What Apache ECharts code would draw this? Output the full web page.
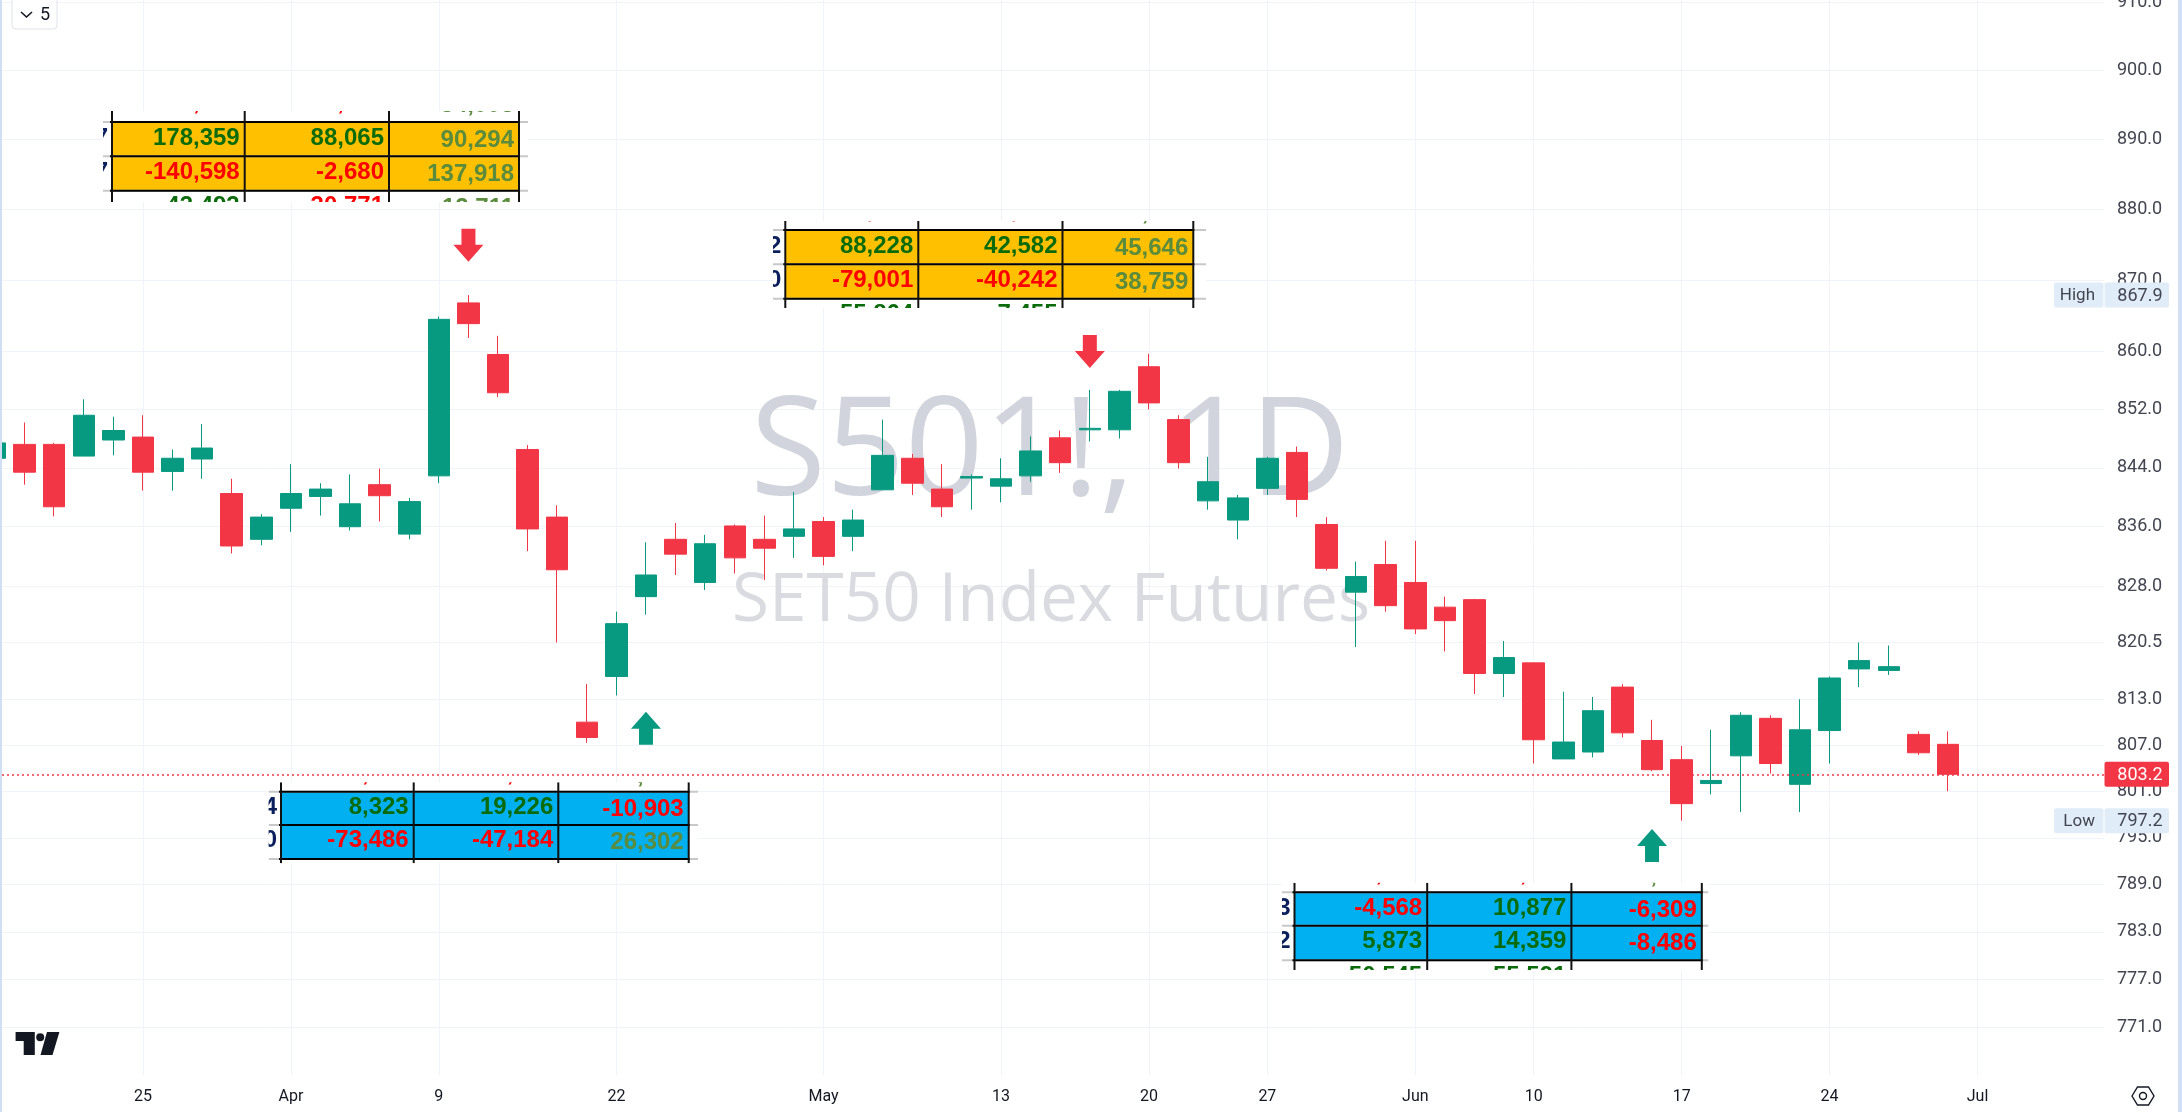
<!DOCTYPE html>
<html>
<head>
<meta charset="utf-8">
<title>S501! 1D</title>
<style>
  html, body { margin: 0; padding: 0; background: #fff; }
  #chart { width: 2182px; height: 1112px; }
</style>
<script src="https://cdn.jsdelivr.net/npm/echarts@6/dist/echarts.min.js"></script>
</head>
<body>
<div id="chart"></div>
<script>
// trading days, one per candle (the last one has no candle yet)
const dates = [
  'Mar 18', 'Mar 19', 'Mar 20', 'Mar 21', 'Mar 22', 'Mar 25', 'Mar 26', 'Mar 27', 'Mar 28', 'Mar 29',
  'Apr 1', 'Apr 2', 'Apr 3', 'Apr 4', 'Apr 5', 'Apr 9', 'Apr 10', 'Apr 11', 'Apr 12', 'Apr 18',
  'Apr 19', 'Apr 22', 'Apr 23', 'Apr 24', 'Apr 25', 'Apr 26', 'Apr 29', 'Apr 30', 'May 2', 'May 3',
  'May 7', 'May 8', 'May 9', 'May 10', 'May 13', 'May 14', 'May 15', 'May 16', 'May 17', 'May 20',
  'May 21', 'May 23', 'May 24', 'May 27', 'May 28', 'May 29', 'May 30', 'May 31', 'Jun 3', 'Jun 4',
  'Jun 5', 'Jun 7', 'Jun 10', 'Jun 11', 'Jun 12', 'Jun 13', 'Jun 14', 'Jun 17', 'Jun 18', 'Jun 19',
  'Jun 20', 'Jun 21', 'Jun 24', 'Jun 25', 'Jun 26', 'Jun 27', 'Jun 28', 'Jul 1'
];

// open, close, low, high
const candles = [
  [845.3, 847.4, 845.0, 847.8], [847.2, 843.4, 841.7, 850.2], [847.2, 838.7, 837.4, 847.4],
  [845.6, 851.2, 845.6, 853.4], [847.8, 849.1, 845.7, 851.0], [848.2, 843.4, 840.9, 851.2],
  [843.5, 845.3, 840.9, 846.5], [845.2, 846.7, 842.5, 850.0], [840.5, 833.4, 832.4, 842.5],
  [834.3, 837.3, 833.5, 837.7], [838.5, 840.5, 835.3, 844.5], [840.1, 841.1, 837.5, 841.9],
  [836.0, 839.1, 835.5, 843.1], [841.7, 840.2, 836.7, 843.9], [835.0, 839.4, 834.3, 839.9],
  [842.9, 864.5, 841.9, 864.9], [866.8, 863.9, 861.9, 867.9], [859.6, 854.3, 853.7, 862.2],
  [846.5, 835.7, 832.7, 847.1], [837.3, 830.2, 820.5, 838.9], [810.0, 808.0, 807.3, 815.0],
  [816.0, 823.0, 813.5, 824.6], [826.6, 829.5, 824.2, 833.9], [834.3, 832.3, 829.5, 836.5],
  [828.5, 833.7, 827.5, 834.9], [836.1, 831.8, 829.7, 836.3], [834.3, 833.1, 828.8, 837.5],
  [834.7, 835.7, 831.8, 840.7], [836.7, 832.0, 830.8, 837.3], [834.7, 836.9, 832.7, 838.3],
  [841.0, 845.7, 841.0, 850.6], [845.3, 841.9, 840.3, 845.9], [841.1, 838.7, 837.3, 844.5],
  [842.6, 842.8, 838.3, 843.1], [841.5, 842.5, 839.3, 845.3], [842.9, 846.3, 842.1, 848.3],
  [848.1, 844.7, 843.3, 849.1], [849.2, 849.4, 847.6, 854.7], [849.2, 854.5, 848.0, 854.7],
  [857.9, 852.9, 852.0, 859.7], [850.6, 844.7, 843.9, 851.2], [839.5, 842.1, 838.3, 845.5],
  [836.9, 839.9, 834.3, 840.3], [841.2, 845.3, 840.3, 845.5], [846.1, 839.7, 837.3, 846.9],
  [836.3, 830.4, 830.1, 837.3], [827.2, 829.3, 819.9, 831.3], [830.9, 825.4, 824.6, 834.1],
  [828.5, 822.3, 821.6, 834.1], [825.2, 823.4, 819.3, 826.6], [826.2, 816.4, 813.7, 826.3],
  [816.4, 818.5, 813.3, 820.7], [817.8, 807.7, 804.6, 817.8], [805.2, 807.4, 805.2, 814.0],
  [806.1, 811.5, 805.4, 813.3], [814.6, 808.6, 808.0, 815.0], [807.6, 803.8, 803.6, 810.3],
  [805.1, 799.4, 797.2, 806.9], [802.0, 802.4, 800.6, 809.0], [805.6, 810.9, 798.3, 811.3],
  [810.5, 804.6, 803.3, 810.9], [801.9, 809.0, 798.3, 813.0], [808.9, 815.8, 804.6, 816.0],
  [817.0, 818.1, 814.6, 820.5], [816.8, 817.3, 816.2, 820.1], [808.4, 806.0, 805.7, 808.8],
  [807.1, 803.2, 801.0, 808.8]
];

const priceTicks = [910, 900, 890, 880, 870, 860, 852, 844, 836, 828, 820.5, 813, 807, 801, 795, 789, 783, 777, 771];
const timeTickIndex = [5, 10, 15, 21, 28, 34, 39, 43, 48, 52, 57, 62, 67];
const timeTickLabels = ['25', 'Apr', '9', '22', 'May', '13', '20', '27', 'Jun', '10', '17', '24', 'Jul'];

const lastPrice = 803.2;
const highPrice = 867.9;
const lowPrice = 797.2;

// signal arrows: candle index and price at the middle of the arrow
const downArrows = [[16, 874.9], [37, 860.0]];
const upArrows = [[22, 809.2], [56, 794.0]];

// pasted spreadsheet snippets
const table1Rows = [['178,359', '88,065', '90,294'], ['-140,598', '-2,680', '137,918']];
const table1Top = [',', ',', '54,003'];
const table1Bottom = ['43,493', '-30,771', '12,711'];
const table1Left = ['7', '7'];
const table2Rows = [['88,228', '42,582', '45,646'], ['-79,001', '-40,242', '38,759']];
const table2Top = [',', ',', ','];
const table2Bottom = ['55,864', '7,455', ''];
const table2Left = ['2', '0'];
const table3Rows = [['8,323', '19,226', '-10,903'], ['-73,486', '-47,184', '26,302']];
const table3Top = [',', ',', ','];
const table3Bottom = ['', '', ''];
const table3Left = ['4', '0'];
const table4Rows = [['-4,568', '10,877', '-6,309'], ['5,873', '14,359', '-8,486']];
const table4Top = [',', ',', ','];
const table4Bottom = ['50,545', '55,591', ''];
const table4Left = ['3', '2'];

const UP = '#089981';
const DOWN = '#F23645';
const GRID = '#F0F3FA';
const INK = '#131722';
const TAG = '#E1ECF9';
const PX_PER_BAR = 29.59;
const FIRST_BAR_X = -5;
const arrowDown = 'path://M8 0H22V16H30L15 33L0 16H8Z';
const arrowUp = 'path://M8 33H22V17H30L15 0L0 17H8Z';

function pxToIndex(px) {
  return (px - FIRST_BAR_X) / PX_PER_BAR;
}

// one pasted table, clipped like the screenshot crop it came from
function pastedTable(t) {
  const rowH = t.rows[1] - t.rows[0];
  const cells = [];
  cells.push({ type: 'rect', shape: { x: t.x0, y: t.y0, width: t.x1 - t.x0, height: t.y1 - t.y0 }, style: { fill: '#fff' } });
  cells.push({
    type: 'rect',
    shape: { x: t.cols[0], y: t.rows[0], width: t.cols[3] - t.cols[0], height: t.rows[2] - t.rows[0] },
    style: { fill: t.fill }
  });
  t.rows.forEach(function (y) {
    cells.push({ type: 'line', shape: { x1: t.x0, y1: y, x2: t.x1, y2: y }, style: { stroke: '#c8c8c8', lineWidth: 2 } });
    cells.push({ type: 'line', shape: { x1: t.cols[0] - 2, y1: y, x2: t.cols[3] + 1, y2: y }, style: { stroke: '#000', lineWidth: 2 } });
  });
  t.cols.forEach(function (x) {
    cells.push({ type: 'line', shape: { x1: x, y1: t.y0, x2: x, y2: t.y1 }, style: { stroke: '#111', lineWidth: 2 } });
  });

  function addText(str, col, cy) {
    if (!str) return;
    const neg = str.charAt(0) === '-';
    let color = neg ? '#FF0000' : (col === 2 ? '#5B8B3C' : '#0B6B0B');
    let x = t.cols[col + 1] - 5;
    // only the tail of the comma shows in the cropped row
    if (str === ',') {
      x -= 40;
      color = col === 2 ? '#5B8B3C' : '#FF0000';
    }
    cells.push({
      type: 'text',
      style: {
        text: str, x: x, y: cy + (col === 2 ? 1 : -1), fill: color,
        font: 'bold 24px "Liberation Sans"', textAlign: 'right', textVerticalAlign: 'middle'
      }
    });
  }

  t.data.forEach(function (row, r) {
    const cy = t.rows[r] + rowH / 2;
    row.forEach(function (str, c) { addText(str, c, cy); });
    cells.push({
      type: 'text',
      style: {
        text: t.left[r], x: t.cols[0] - 4, y: cy - 1, fill: '#0B1F5C',
        font: 'bold 24px "Liberation Sans"', textAlign: 'right', textVerticalAlign: 'middle'
      }
    });
  });
  t.top.forEach(function (str, c) { addText(str, c, t.rows[0] - rowH / 2); });
  t.bottom.forEach(function (str, c) { addText(str, c, t.rows[2] + rowH / 2); });

  return {
    type: 'group', z: 50,
    clipPath: { type: 'rect', shape: { x: t.x0, y: t.y0, width: t.x1 - t.x0, height: t.y1 - t.y0 } },
    children: cells
  };
}

const tables = [
  { x0: 103, x1: 528, y0: 111, y1: 202, fill: '#FFC000', cols: [112, 244.7, 389, 519], rows: [122, 156.3, 190.7], data: table1Rows, top: table1Top, bottom: table1Bottom, left: table1Left },
  { x0: 773, x1: 1206, y0: 221, y1: 308, fill: '#FFC000', cols: [785.3, 918.3, 1062.5, 1193.3], rows: [230, 264.3, 298.7], data: table2Rows, top: table2Top, bottom: table2Bottom, left: table2Left },
  { x0: 268.6, x1: 698, y0: 782.3, y1: 863.3, fill: '#00B0F0', cols: [281, 413.7, 558.3, 688.7], rows: [791.7, 825, 859], data: table3Rows, top: table3Top, bottom: table3Bottom, left: table3Left },
  { x0: 1282, x1: 1708.5, y0: 882.7, y1: 970, fill: '#00B0F0', cols: [1294.5, 1427.2, 1571.4, 1701.8], rows: [892.3, 925.7, 960.3], data: table4Rows, top: table4Top, bottom: table4Bottom, left: table4Left }
];

const chrome = [
  // window edges
  { type: 'rect', z: 60, shape: { x: 0, y: 0, width: 2, height: 1112 }, style: { fill: '#D2DEF3' } },
  { type: 'rect', z: 60, shape: { x: 2178, y: 0, width: 4, height: 1112 }, style: { fill: '#D2DEF3' } },
  // watermarks
  { type: 'text', z: 1, style: { text: 'S501!, 1D', x: 1050, y: 525, fill: '#D1D4DC', font: '138px "Open Sans"', textAlign: 'center', textVerticalAlign: 'bottom' } },
  { type: 'text', z: 1, style: { text: 'SET50 Index Futures', x: 1051, y: 636, fill: '#D9DBE1', font: '67.5px "Open Sans"', textAlign: 'center', textVerticalAlign: 'bottom' } },
  // collapse button
  { type: 'rect', z: 60, shape: { x: 12, y: -4, width: 45, height: 33, r: 4 }, style: { fill: '#fff', stroke: '#E0E3EB', lineWidth: 1 } },
  { type: 'polyline', z: 60, shape: { points: [[21, 12], [26.5, 17], [32, 12]] }, style: { stroke: INK, lineWidth: 1.6, fill: 'none' } },
  { type: 'text', z: 60, style: { text: '5', x: 45, y: 15, fill: INK, font: '18px Roboto', textAlign: 'center', textVerticalAlign: 'middle' } },
  // logo
  { type: 'polygon', z: 60, shape: { points: [[15.6, 1032], [34.8, 1032], [34.8, 1055], [23.7, 1055], [23.7, 1041], [15.6, 1041]] }, style: { fill: INK } },
  { type: 'circle', z: 60, shape: { cx: 40.2, cy: 1037.3, r: 4 }, style: { fill: INK } },
  { type: 'polygon', z: 60, shape: { points: [[47, 1032], [59.4, 1032], [52.5, 1055], [40.5, 1055]] }, style: { fill: INK } },
  // settings icon
  { type: 'polygon', z: 60, shape: { points: [[2132, 1096], [2137.5, 1087], [2148.5, 1087], [2154, 1096], [2148.5, 1105], [2137.5, 1105]] }, style: { fill: 'none', stroke: INK, lineWidth: 1.4 } },
  { type: 'circle', z: 60, shape: { cx: 2143, cy: 1096, r: 3.5 }, style: { fill: 'none', stroke: INK, lineWidth: 1.4 } }
];

var myChart = echarts.init(document.getElementById('chart'));

var option = {
  animation: false,
  backgroundColor: '#fff',
  // the 910.0 label is cut by the top edge in the original, so no outer bounds
  grid: { left: 2, right: 78, top: 0, bottom: 37, outerBoundsMode: 'none' },
  xAxis: {
    type: 'value',
    min: pxToIndex(2),
    max: pxToIndex(2104),
    axisLine: { show: false },
    axisTick: { show: false, customValues: timeTickIndex },
    splitLine: { show: true, lineStyle: { color: GRID, width: 1 } },
    axisLabel: {
      customValues: timeTickIndex,
      margin: 14,
      color: INK,
      fontFamily: 'Roboto',
      fontSize: 16,
      hideOverlap: false,
      formatter: function (v) { return timeTickLabels[timeTickIndex.indexOf(v)]; }
    }
  },
  yAxis: {
    type: 'log',
    position: 'right',
    min: 765.09,
    max: 910.3,
    axisLine: { show: false },
    axisTick: { show: false, customValues: priceTicks },
    splitLine: { show: true, lineStyle: { color: GRID, width: 1 } },
    axisLabel: {
      customValues: priceTicks,
      margin: 13,
      padding: [2, 0, 0, 0],
      align: 'left',
      color: '#434651',
      fontFamily: 'Roboto',
      fontSize: 18,
      hideOverlap: false,
      showMinLabel: true,
      showMaxLabel: true,
      formatter: function (v) { return Number(v).toFixed(1); }
    }
  },
  series: [{
    name: 'S501!',
    type: 'candlestick',
    barWidth: 22,
    layout: 'horizontal',
    itemStyle: { color: UP, color0: DOWN, borderColor: UP, borderColor0: DOWN, borderWidth: 1 },
    data: candles.map(function (c, i) { return [i, c[0], c[1], c[2], c[3]]; }),
    markLine: {
      silent: true,
      symbol: 'none',
      animation: false,
      label: { show: false },
      lineStyle: { color: DOWN, type: [2, 3], width: 1.5, opacity: 1 },
      data: [{ yAxis: lastPrice }]
    },
    markPoint: {
      silent: true,
      animation: false,
      label: { show: false },
      data: downArrows.map(function (a) {
        return { coord: a, symbol: arrowDown, symbolSize: [30, 33], itemStyle: { color: DOWN } };
      }).concat(upArrows.map(function (a) {
        return { coord: a, symbol: arrowUp, symbolSize: [30, 33], itemStyle: { color: UP } };
      }))
    }
  }],
  graphic: { elements: chrome.concat(tables.map(pastedTable)) }
};

myChart.setOption(option);

// price tags sit on the axis at their own value
function priceTag(word, value, fill, textColor) {
  const cy = myChart.convertToPixel({ yAxisIndex: 0 }, value);
  const items = [
    { type: 'rect', z: 70, shape: { x: 2104.5, y: cy - 12.5, width: 64.5, height: 25, r: 2 }, style: { fill: fill } },
    { type: 'text', z: 70, style: { text: value.toFixed(1), x: 2117.3, y: cy + 1, fill: textColor, font: '18px Roboto', textAlign: 'left', textVerticalAlign: 'middle' } }
  ];
  if (word) {
    items.push({ type: 'rect', z: 70, shape: { x: 2054, y: cy - 12.5, width: 49.5, height: 25, r: 2 }, style: { fill: fill } });
    items.push({ type: 'text', z: 70, style: { text: word, x: 2095, y: cy + 1, fill: textColor, font: '17px Roboto', textAlign: 'right', textVerticalAlign: 'middle' } });
  }
  return items;
}

myChart.setOption({
  graphic: {
    elements: chrome.concat(tables.map(pastedTable))
      .concat(priceTag('High', highPrice, TAG, '#434651'))
      .concat(priceTag('Low', lowPrice, TAG, '#434651'))
      .concat(priceTag('', lastPrice, DOWN, '#fff'))
  }
}, { replaceMerge: ['graphic'] });
</script>
</body>
</html>
